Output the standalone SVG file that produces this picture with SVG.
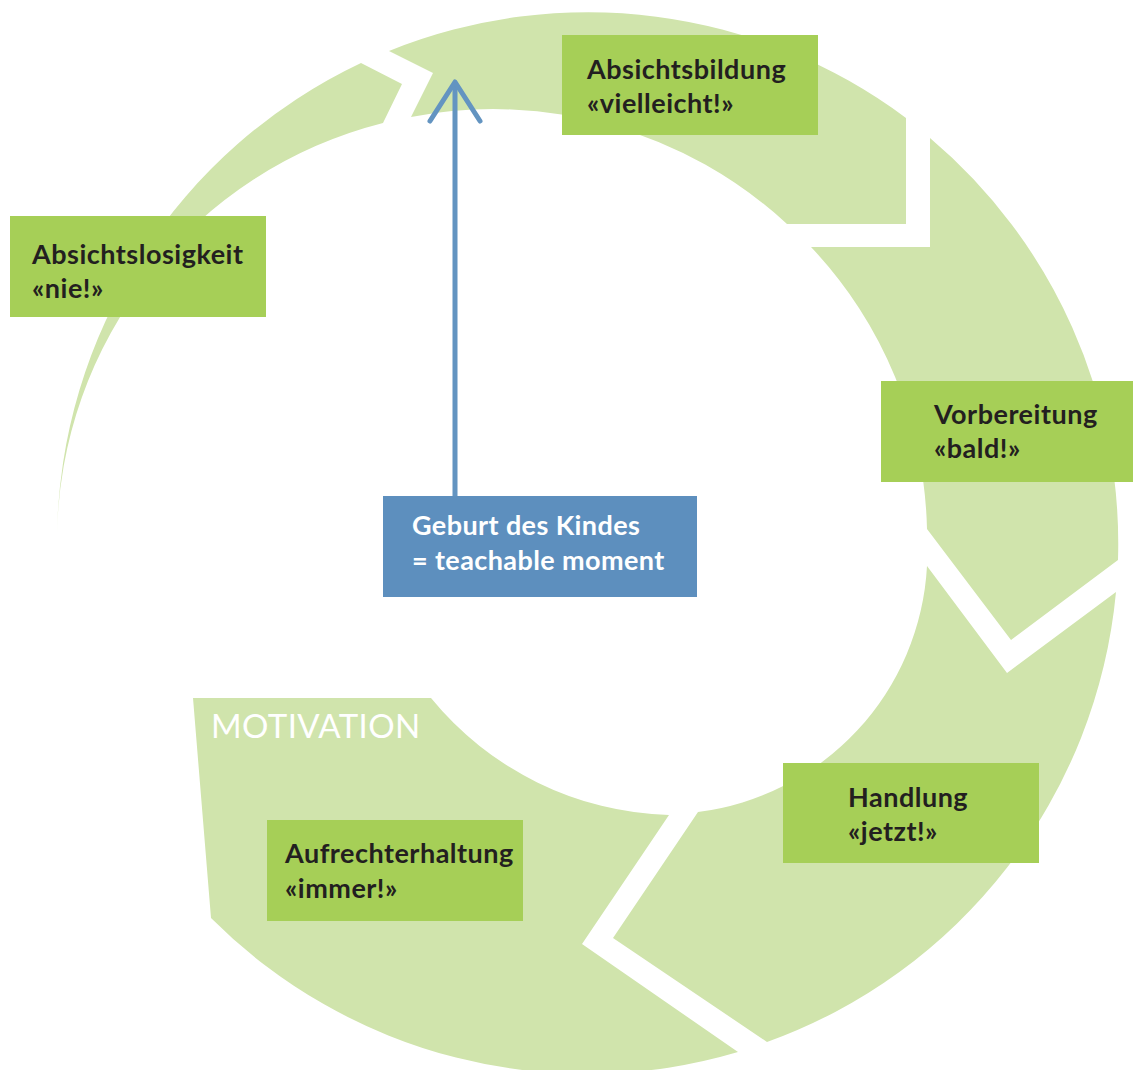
<svg xmlns="http://www.w3.org/2000/svg" width="1133" height="1070" viewBox="0 0 1133 1070">
<defs>
<style>
.seg{fill:#d0e4ac;stroke:none}
.box{fill:#a6cf57}
.bbox{fill:#5d8fbe}
.t{font-family:Lato,"Open Sans",sans-serif;font-weight:bold;font-size:27px;letter-spacing:0.5px;fill:#231f20}
.tw{font-family:Lato,"Open Sans",sans-serif;font-weight:bold;font-size:27px;letter-spacing:0.4px;fill:#ffffff}
.mot{font-family:Lato,"Open Sans",sans-serif;font-weight:normal;font-size:33px;letter-spacing:0.4px;fill:#ffffff}
.arr{fill:none;stroke:#6394c1;stroke-width:5;stroke-linecap:round;stroke-linejoin:round}
</style>
</defs>
<rect width="1133" height="1070" fill="#ffffff"/>
<g id="ring">
<path class="seg" d="M389,51 L433,73 L411,117 A433,433 0 0 1 787,224 L906,224 L906,118 A531,531 0 0 0 389,51 Z"/>
<path class="seg" d="M811,247 L930,247 L930,138 A531,531 0 0 1 1118,560 L1011,640 L927,529 A424,424 0 0 0 811,247 Z"/>
<path class="seg" d="M927,566 L1007,673 L1116,592 A531,531 0 0 1 767,1042 L613,938 L698,812 A262,262 0 0 0 927,566 Z"/>
<path class="seg" d="M193,698 L431,698 A319,319 0 0 0 669,815 L582,944 L738,1052 A531,531 0 0 1 211,918 Z"/>
<path class="seg" d="M361,63 L402,84 L383,123 A432,432 0 0 0 57,536 A531,531 0 0 1 361,63 Z"/>
<text class="mot" x="211" y="738">MOTIVATION</text>
</g>
<g id="connectors">
<path class="arr" d="M455,496 L455,84"/>
<path class="arr" d="M430,121 L455,82 L480,121"/>
</g>
<g id="absichtsbildung">
<rect class="box" x="562" y="35" width="256" height="100"/>
<text class="t" x="587" y="79">Absichtsbildung</text>
<text class="t" x="587" y="113">«vielleicht!»</text>
</g>
<g id="absichtslosigkeit">
<rect class="box" x="10" y="216" width="256" height="101"/>
<text class="t" x="32" y="264">Absichtslosigkeit</text>
<text class="t" x="32" y="298">«nie!»</text>
</g>
<g id="vorbereitung">
<rect class="box" x="881" y="381" width="252" height="101"/>
<text class="t" x="934" y="424">Vorbereitung</text>
<text class="t" x="934" y="458">«bald!»</text>
</g>
<g id="handlung">
<rect class="box" x="783" y="763" width="256" height="100"/>
<text class="t" x="848" y="807">Handlung</text>
<text class="t" x="848" y="841">«jetzt!»</text>
</g>
<g id="aufrechterhaltung">
<rect class="box" x="267" y="820" width="256" height="101"/>
<text class="t" x="285" y="863">Aufrechterhaltung</text>
<text class="t" x="285" y="898">«immer!»</text>
</g>
<g id="geburt">
<rect class="bbox" x="383" y="496" width="314" height="101"/>
<text class="tw" x="412" y="535">Geburt des Kindes</text>
<text class="tw" x="412" y="570">= teachable moment</text>
</g>
</svg>
